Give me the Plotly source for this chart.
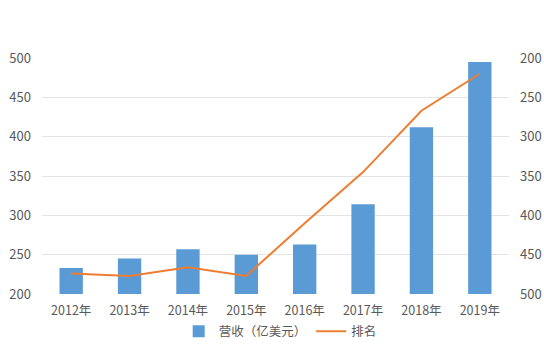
import plotly.graph_objects as go

years = ["2012年", "2013年", "2014年", "2015年", "2016年", "2017年", "2018年", "2019年"]
revenue = [233, 245, 257, 250, 263, 314, 412, 495]
rank = [474, 477, 466, 477, 410, 345, 267, 220]

font_family = "Noto Sans CJK SC, Noto Sans, sans-serif"
tick_color = "#595959"

fig = go.Figure()
fig.add_trace(go.Bar(
    x=years, y=revenue, name="营收（亿美元）",
    marker=dict(color="#5B9BD5", line=dict(width=0)),
    width=0.4, yaxis="y",
))
fig.add_trace(go.Scatter(
    x=years, y=rank, name="排名", mode="lines",
    line=dict(color="#ED7D31", width=2), yaxis="y2",
))

fig.update_layout(
    width=544, height=346,
    margin=dict(l=42, r=35, t=58, b=52, autoexpand=False),
    paper_bgcolor="white", plot_bgcolor="white",
    font=dict(family=font_family, size=12, color=tick_color),
    showlegend=True,
    legend=dict(orientation="h", x=0.51, xanchor="center", yref="container",
                y=0.085, yanchor="top", traceorder="normal",
                font=dict(size=12.5, color=tick_color),
                bgcolor="rgba(0,0,0,0)"),
    bargap=0.6,
    xaxis=dict(showgrid=False, showline=False, zeroline=False, ticks="",
               tickfont=dict(size=12.5, color=tick_color), ticklabelstandoff=7),
    yaxis=dict(range=[200, 500], dtick=50, showgrid=True, gridcolor="#E4E4E4",
               gridwidth=1, zeroline=False, showline=False, ticks="",
               tickfont=dict(size=13, color=tick_color), ticklabelstandoff=10),
    yaxis2=dict(range=[500, 200], dtick=50, overlaying="y", side="right",
                showgrid=False, zeroline=False, showline=False, ticks="",
                tickfont=dict(size=13, color=tick_color), ticklabelstandoff=10),
)

fig.write_html("out.html")
